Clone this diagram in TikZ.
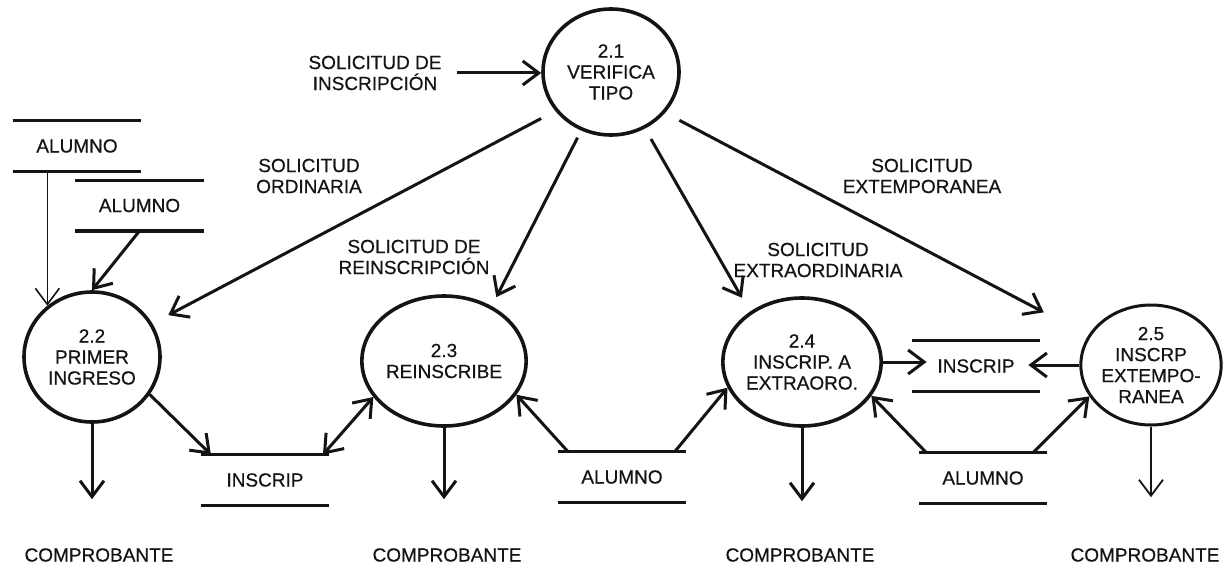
\documentclass[tikz,border=0pt]{standalone}
\usepackage{fontspec}
\setmainfont{Liberation Sans}[FakeBold=0.6]
\usetikzlibrary{arrows.meta,shapes.geometric,calc}
\definecolor{ink}{HTML}{141414}
\tikzset{
  every node/.style={font=\fontsize{9.5}{10.5}\selectfont, text=ink},
  proc/.style={ellipse, draw=ink, line width=1.8pt, minimum width=68pt, minimum height=65pt, inner sep=0pt, align=center},
  storeline/.style={draw=ink, line width=1.6pt},
  store/.style={minimum width=64pt, minimum height=25pt, inner sep=0pt,
    append after command={(\tikzlastnode.north west) edge[storeline] (\tikzlastnode.north east)
      (\tikzlastnode.south west) edge[storeline] (\tikzlastnode.south east)}},
  flowtext/.style={align=center},
  flow/.style={draw=ink, line width=1.5pt, -{Straight Barb[length=8pt,width=12pt]}},
  thinflow/.style={flow, line width=0.8pt},
  twoway/.style={flow, {Straight Barb[length=8pt,width=12pt]}-{Straight Barb[length=8pt,width=12pt]}},
}
\begin{document}
\begin{tikzpicture}[x=0.5pt,y=-0.5pt]
\useasboundingbox (0,0) rectangle (1224,567);
\node[proc, minimum height=63pt] (p21) at (611,72) {2.1\\VERIFICA\\TIPO};
\node[proc] (p22) at (92,357) {2.2\\PRIMER\\INGRESO};
\node[proc, minimum width=67pt] (p23) at (444,361) {2.3\\REINSCRIBE};
\node[proc, minimum width=70pt, minimum height=64pt] (p24) at (802,362) {2.4\\INSCRIP. A\\EXTRAORO.};
\node[proc, minimum width=62pt, minimum height=60pt, line width=1.5pt] (p25) at (1151,365) {2.5\\INSCRP\\EXTEMPO-\\RANEA};

\node[flowtext] (sdi) at (375,73) {SOLICITUD DE\\INSCRIPCIÓN};
\node[flowtext] (lord) at (309,176) {SOLICITUD\\ORDINARIA};
\node[flowtext] (lrei) at (414,257) {SOLICITUD DE\\REINSCRIPCIÓN};
\node[flowtext] (lext) at (818,260) {SOLICITUD\\EXTRAORDINARIA};
\node[flowtext] (ltem) at (922,176) {SOLICITUD\\EXTEMPORANEA};

\node[store] (a1) at (77,146) {ALUMNO};
\node[store] (a2) at (139.5,205.5) {ALUMNO};
\node[store] (i1) at (265,480) {INSCRIP};
\node[store] (a3) at (622,477) {ALUMNO};
\node[store] (i2) at (976,366) {INSCRIP};
\node[store] (a4) at (983,478) {ALUMNO};

\node (c22) at (99,555) {COMPROBANTE};
\node (c23) at (447,555) {COMPROBANTE};
\node (c24) at (800,555) {COMPROBANTE};
\node (c25) at (1145,555) {COMPROBANTE};

\draw[flow, shorten <=4pt] (sdi.east) -- (sdi.east -| p21.west);
\draw[flow, shorten <=8pt, shorten >=9pt] (p21.215) -- (p22.29);
\draw[flow, shorten <=4pt, shorten >=5pt] (p21.243) -- (p23.49);
\draw[flow, shorten <=6pt, shorten >=8pt] (p21.301) -- (p24.136);
\draw[flow, shorten <=8pt, shorten >=25pt] (p21.323) -- (p25.155);

\draw[thinflow] (p22.131 |- a1.south) -- (p22.131);
\draw[flow] (a2.south) -- (p22.north);
\draw[flow] (p22.327) -- ($(i1.north west)!0.08!(i1.north east)$);
\draw[twoway] ($(i1.north west)!0.95!(i1.north east)$) -- (p23.207);
\draw[flow] ($(a3.north west)!0.08!(a3.north east)$) -- (p23.335);
\draw[flow] ($(a3.north west)!0.91!(a3.north east)$) -- (p24.199);
\draw[flow] (p24.east) -- ($(p24.east -| i2.west)+(15,0)$);
\draw[flow] (p25.west) -- ($(p25.west -| i2.east)+(-12,0)$);
\draw[flow] ($(a4.north west)!0.06!(a4.north east)$) -- (p24.334);
\draw[flow] ($(a4.north west)!0.89!(a4.north east)$) -- (p25.207);

\draw[flow, shorten >=21pt] (p22) -- (p22 |- c22.north);
\draw[flow, shorten >=21pt] (p23) -- (p23 |- c23.north);
\draw[flow, shorten >=20pt] (p24) -- (p24 |- c24.north);
\draw[flow, line width=0.9pt, shorten >=22pt] (p25) -- (p25 |- c25.north);
\end{tikzpicture}
\end{document}
